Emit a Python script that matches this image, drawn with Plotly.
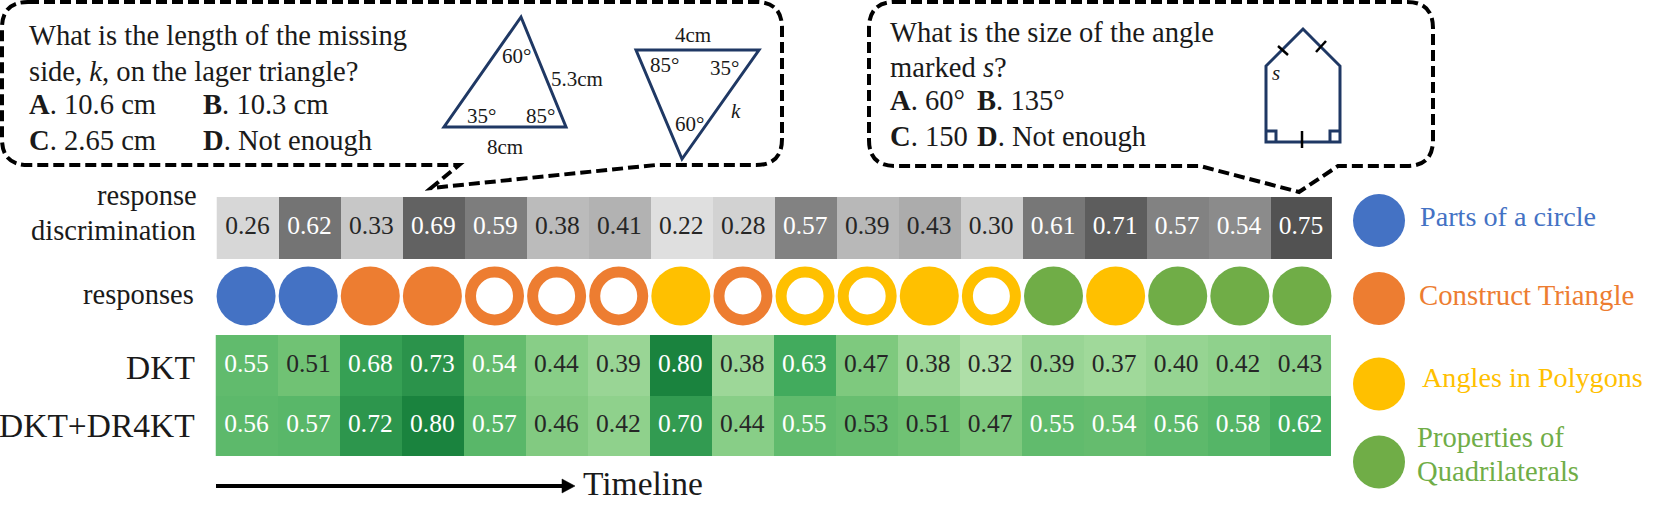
import plotly.graph_objects as go

steps = list(range(18))
discrimination = [.26,.62,.33,.69,.59,.38,.41,.22,.28,.57,.39,.43,.30,.61,.71,.57,.54,.75]
dkt = [.55,.51,.68,.73,.54,.44,.39,.80,.38,.63,.47,.38,.32,.39,.37,.40,.42,.43]
dr4kt = [.56,.57,.72,.80,.57,.46,.42,.70,.44,.55,.53,.51,.47,.55,.54,.56,.58,.62]
model_names = ["DKT", "DKT+DR4KT"]
topic_names = ["Parts of a circle", "Construct Triangle", "Angles in Polygons", "Properties of<br>Quadrilaterals"]
topic_colors = ["#4472C4", "#ED7D31", "#FFC000", "#70AD47"]
response_topic = [0,0,1,1,1,1,1,2,1,2,2,2,2,3,2,3,3,3]
response_correct = [1,1,1,1,0,0,0,1,0,0,0,1,0,1,1,1,1,1]

W, H = 1661, 511
FONT = "Liberation Serif"
INK = "#1a1a1a"
NAVY = "#1F3864"
GREYS = [[0,"#ffffff"],[.125,"#f0f0f0"],[.25,"#d9d9d9"],[.375,"#bdbdbd"],[.5,"#969696"],
         [.625,"#737373"],[.75,"#525252"],[.875,"#252525"],[1,"#000000"]]
GREENS = [[0,"#f7fcf5"],[.125,"#e5f5e0"],[.25,"#c7e9c0"],[.375,"#a1d99b"],[.5,"#74c476"],
          [.625,"#41ab5d"],[.75,"#238b45"],[.875,"#006d2c"],[1,"#00441b"]]

def X(v): return v / W
def Y(v): return 1 - v / H
def dom_x(a, b): return [X(a), X(b)]
def dom_y(top, bottom): return [Y(bottom), Y(top)]

def label_colors(vals):
    return ["#ffffff" if v >= .535 else "#262626" for v in vals]
def fmt(vals):
    return [f"{v:.2f}" for v in vals]

fig = go.Figure()

# response discrimination row
fig.add_trace(go.Heatmap(x=steps, y=["d"], z=[discrimination], colorscale=GREYS, zmin=0, zmax=1,
                         showscale=False, hoverinfo="skip", xaxis="x", yaxis="y"))
fig.add_trace(go.Scatter(x=steps, y=["d"]*18, mode="text", text=fmt(discrimination),
                         textfont=dict(family=FONT, size=25.5, color=label_colors(discrimination)),
                         hoverinfo="skip", xaxis="x", yaxis="y"))

# responses row
resp_fill = [topic_colors[t] if c else "#ffffff" for t, c in zip(response_topic, response_correct)]
resp_line = [topic_colors[t] for t in response_topic]
resp_size = [59 if c else 48 for c in response_correct]
resp_lw = [0 if c else 11 for c in response_correct]
fig.add_trace(go.Scatter(x=steps, y=["r"]*18, mode="markers", cliponaxis=False,
                         marker=dict(color=resp_fill, size=resp_size, opacity=1,
                                     line=dict(color=resp_line, width=resp_lw)),
                         hoverinfo="skip", xaxis="x2", yaxis="y2"))

# model rows
fig.add_trace(go.Heatmap(x=steps, y=model_names, z=[dkt, dr4kt], colorscale=GREENS, zmin=-.03, zmax=1.03,
                         showscale=False, hoverinfo="skip", xaxis="x3", yaxis="y3"))
for name, vals in zip(model_names, [dkt, dr4kt]):
    fig.add_trace(go.Scatter(x=steps, y=[name]*18, mode="text", text=fmt(vals),
                             textfont=dict(family=FONT, size=25.5, color=label_colors(vals)),
                             hoverinfo="skip", xaxis="x3", yaxis="y3"))

hidden = dict(visible=False, fixedrange=True)
fig.update_layout(
    width=W, height=H, margin=dict(l=0, r=0, t=0, b=0), paper_bgcolor="white", plot_bgcolor="rgba(0,0,0,0)",
    showlegend=False, font=dict(family=FONT, color=INK),
    xaxis=dict(hidden, domain=dom_x(216.5, 1332), range=[-.5, 17.5]),
    yaxis=dict(hidden, domain=dom_y(197, 259), type="category"),
    xaxis2=dict(hidden, domain=dom_x(215, 1333), range=[-.5, 17.5]),
    yaxis2=dict(hidden, domain=dom_y(266, 326), type="category"),
    xaxis3=dict(hidden, domain=dom_x(215.5, 1331), range=[-.5, 17.5]),
    yaxis3=dict(hidden, domain=dom_y(335, 456), type="category", autorange="reversed"),
)

anns, shapes = [], []
def T(x, y, s, size=28, anchor="left", color=INK):
    anns.append(dict(x=X(x), y=Y(y), xref="paper", yref="paper", text=s, showarrow=False,
                     xanchor=anchor, yanchor="middle", align="left",
                     font=dict(family=FONT, size=size, color=color)))
def P(points, closed=False, color=NAVY, width=3, dash="solid"):
    d = "M" + " L".join(f"{X(a):.5f},{Y(b):.5f}" for a, b in points) + (" Z" if closed else "")
    shapes.append(dict(type="path", path=d, xref="paper", yref="paper",
                       line=dict(color=color, width=width, dash=dash)))

def bubble(l, t, r, b, tail, rad=26):
    (x1, tipx, tipy, x2) = tail
    pts = [f"M{X(l+rad):.5f},{Y(t):.5f}", f"L{X(r-rad):.5f},{Y(t):.5f}",
           f"Q{X(r):.5f},{Y(t):.5f} {X(r):.5f},{Y(t+rad):.5f}",
           f"L{X(r):.5f},{Y(b-rad):.5f}", f"Q{X(r):.5f},{Y(b):.5f} {X(r-rad):.5f},{Y(b):.5f}",
           f"L{X(x2):.5f},{Y(b):.5f}", f"L{X(tipx):.5f},{Y(tipy):.5f}", f"L{X(x1):.5f},{Y(b):.5f}",
           f"L{X(l+rad):.5f},{Y(b):.5f}", f"Q{X(l):.5f},{Y(b):.5f} {X(l):.5f},{Y(b-rad):.5f}",
           f"L{X(l):.5f},{Y(t+rad):.5f}", f"Q{X(l):.5f},{Y(t):.5f} {X(l+rad):.5f},{Y(t):.5f}"]
    shapes.append(dict(type="path", path=" ".join(pts), xref="paper", yref="paper",
                       line=dict(color="#000000", width=4, dash="11px,5px")))

bubble(2, 2, 782, 165, (459, 431, 188, 656))
bubble(869, 2, 1433, 166, (1200, 1299, 192, 1338))

# left question
Q = 28.6
T(27, 35, "What is the length of the missing", Q)
T(27, 71, "side, <i>k</i>, on the lager triangle?", Q)
T(27, 105, "<b>A</b>. 10.6 cm", Q)
T(201, 105, "<b>B</b>. 10.3 cm", Q)
T(27, 140, "<b>C</b>. 2.65 cm", Q)
T(201, 140, "<b>D</b>. Not enough", Q)
P([(521,17),(444,127),(566,127)], True)
P([(636,50),(759,50),(682,159)], True)
for x, y, s in [(516,56,"60°"),(577,79,"5.3cm"),(481,116,"35°"),(540,116,"85°"),(505,147,"8cm"),
                (693,35,"4cm"),(664,65,"85°"),(724,68,"35°"),(689,124,"60°"),(736,111,"<i>k</i>")]:
    T(x, y, s, 21, "center")

# right question
T(888, 32, "What is the size of the angle", Q)
T(888, 67, "marked <i>s</i>?", Q)
T(888, 101, "<b>A</b>. 60°", Q)
T(975, 101, "<b>B</b>. 135°", Q)
T(888, 137, "<b>C</b>. 150", Q)
T(975, 137, "<b>D</b>. Not enough", Q)
P([(1303,29),(1266,66),(1266,142),(1340,142),(1340,66)], True)
P([(1266,131),(1276,131),(1276,142)]); P([(1340,131),(1330,131),(1330,142)])
P([(1278,46),(1288,55)], color="#000", width=2.5)
P([(1316,52),(1326,41)], color="#000", width=2.5)
P([(1302,131),(1302,148)], color="#000", width=2.5)
T(1276, 73, "<i>s</i>", 21, "center")

# row labels
T(199, 195, "response", 28.5, "right")
T(198, 230, "discrimination", 28.5, "right")
T(196, 294, "responses", 28.5, "right")
T(197, 367, model_names[0], 33.5, "right")
T(197, 425, model_names[1], 33.5, "right")

# timeline arrow
P([(216,486),(565,486)], color="#000", width=4)
P([(562,479),(575,486),(562,493)], True, color="#000", width=0.5)
shapes[-1]["fillcolor"] = "#000"
T(581, 483, "Timeline", 33.5)

# topic key
for cy, color in zip([220.5, 298.5, 384, 462], topic_colors):
    shapes.append(dict(type="circle", xref="paper", yref="paper", x0=X(1353), x1=X(1405), y0=Y(cy+26.5), y1=Y(cy-26.5),
                       fillcolor=color, line=dict(width=0)))
T(1418, 216, topic_names[0], 28.2, color=topic_colors[0])
T(1417, 295, topic_names[1], 28.8, color=topic_colors[1])
T(1420, 377, topic_names[2], 28.2, color=topic_colors[2])
a, b = topic_names[3].split("<br>")
T(1415, 437, a, 28.6, color=topic_colors[3])
T(1415, 471, b, 28.6, color=topic_colors[3])

fig.update_layout(annotations=anns, shapes=shapes)
fig.write_html("out.html", config=dict(displayModeBar=False),
               post_script="document.body.style.margin='0';document.body.style.overflow='hidden';")
